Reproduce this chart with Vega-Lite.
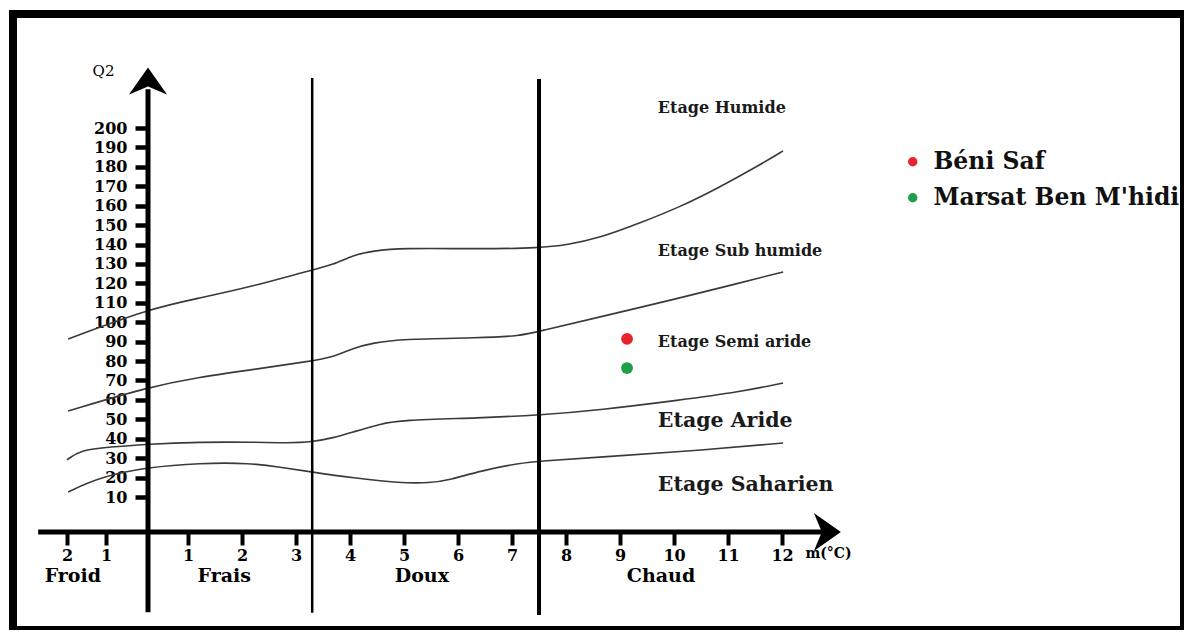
{
  "$schema": "https://vega.github.io/schema/vega-lite/v6.json",
  "width": 1171,
  "height": 616,
  "autosize": "none",
  "padding": {"left": 13, "top": 14, "right": 0, "bottom": 0},
  "background": "white",
  "config": {"view": {"stroke": "black", "strokeWidth": 8}, "font": "DejaVu Serif"},
  "datasets": {
    "curves": [
      {"limite": "A", "m": -1.97, "Q2": 91.4}, {"limite": "A", "m": 0, "Q2": 106.8}, {"limite": "A", "m": 1.22, "Q2": 112.5}, {"limite": "A", "m": 2.15, "Q2": 118.1}, {"limite": "A", "m": 3.28, "Q2": 126.9}, {"limite": "A", "m": 3.69, "Q2": 129.5}, {"limite": "A", "m": 4.06, "Q2": 134.6}, {"limite": "A", "m": 4.43, "Q2": 136.7}, {"limite": "A", "m": 4.93, "Q2": 138.2}, {"limite": "A", "m": 6.41, "Q2": 137.7}, {"limite": "A", "m": 7.52, "Q2": 138.2}, {"limite": "A", "m": 8.02, "Q2": 139.8}, {"limite": "A", "m": 8.63, "Q2": 143.4}, {"limite": "A", "m": 9.37, "Q2": 151.1}, {"limite": "A", "m": 10.11, "Q2": 159.3}, {"limite": "A", "m": 10.85, "Q2": 169.6}, {"limite": "A", "m": 11.59, "Q2": 181.0}, {"limite": "A", "m": 12.02, "Q2": 188.2},
      {"limite": "B", "m": -1.97, "Q2": 54.3}, {"limite": "B", "m": 0, "Q2": 66.6}, {"limite": "B", "m": 1.22, "Q2": 71.8}, {"limite": "B", "m": 2.15, "Q2": 75.4}, {"limite": "B", "m": 3.28, "Q2": 80.0}, {"limite": "B", "m": 3.69, "Q2": 82.1}, {"limite": "B", "m": 4.06, "Q2": 86.7}, {"limite": "B", "m": 4.43, "Q2": 89.3}, {"limite": "B", "m": 4.93, "Q2": 91.4}, {"limite": "B", "m": 6.41, "Q2": 91.9}, {"limite": "B", "m": 7.15, "Q2": 92.9}, {"limite": "B", "m": 7.52, "Q2": 95.5}, {"limite": "B", "m": 8.63, "Q2": 102.7}, {"limite": "B", "m": 10.11, "Q2": 112.5}, {"limite": "B", "m": 11.22, "Q2": 120.2}, {"limite": "B", "m": 12.02, "Q2": 125.9},
      {"limite": "C", "m": -2.0, "Q2": 29.1}, {"limite": "C", "m": -1.67, "Q2": 34.2}, {"limite": "C", "m": -0.9, "Q2": 35.7}, {"limite": "C", "m": 0, "Q2": 37.3}, {"limite": "C", "m": 1.22, "Q2": 38.3}, {"limite": "C", "m": 2.15, "Q2": 38.3}, {"limite": "C", "m": 2.89, "Q2": 37.8}, {"limite": "C", "m": 3.28, "Q2": 38.3}, {"limite": "C", "m": 3.69, "Q2": 40.4}, {"limite": "C", "m": 4.06, "Q2": 43.5}, {"limite": "C", "m": 4.56, "Q2": 47.6}, {"limite": "C", "m": 4.93, "Q2": 49.6}, {"limite": "C", "m": 6.41, "Q2": 50.7}, {"limite": "C", "m": 7.52, "Q2": 52.2}, {"limite": "C", "m": 8.63, "Q2": 54.8}, {"limite": "C", "m": 10.11, "Q2": 59.9}, {"limite": "C", "m": 11.22, "Q2": 64.1}, {"limite": "C", "m": 12.02, "Q2": 68.7},
      {"limite": "D", "m": -1.97, "Q2": 12.6}, {"limite": "D", "m": -1.15, "Q2": 20.3}, {"limite": "D", "m": 0, "Q2": 25.4}, {"limite": "D", "m": 1.22, "Q2": 27.5}, {"limite": "D", "m": 2.15, "Q2": 27.5}, {"limite": "D", "m": 2.7, "Q2": 25.4}, {"limite": "D", "m": 3.28, "Q2": 22.9}, {"limite": "D", "m": 4.06, "Q2": 19.8}, {"limite": "D", "m": 4.93, "Q2": 17.2}, {"limite": "D", "m": 5.48, "Q2": 17.2}, {"limite": "D", "m": 5.85, "Q2": 18.8}, {"limite": "D", "m": 6.41, "Q2": 23.4}, {"limite": "D", "m": 7.15, "Q2": 27.5}, {"limite": "D", "m": 7.52, "Q2": 28.5}, {"limite": "D", "m": 8.63, "Q2": 30.6}, {"limite": "D", "m": 10.11, "Q2": 33.2}, {"limite": "D", "m": 12.02, "Q2": 37.8}
    ],
    "stations": [
      {"station": "Béni Saf", "m": 9.13, "Q2": 91.4},
      {"station": "Marsat Ben M'hidi", "m": 9.13, "Q2": 76.4}
    ],
    "divisions": [
      {"m": 3.3, "Q2": -23.1, "Q2_end": 225.7},
      {"m": 7.5, "Q2": -23.7, "Q2_end": 225.2}
    ],
    "axes": [
      {"axe": "Q2", "m": 0, "m_end": 0, "Q2": -22.9, "Q2_end": 220},
      {"axe": "m", "m": -2.74, "m_end": 12.9, "Q2": 0, "Q2_end": 0}
    ],
    "arrows": [
      {"dir": "up", "m": 0, "Q2": 224.2},
      {"dir": "right", "m": 12.84, "Q2": 0}
    ],
    "zones": [
      {"label": "Froid", "m": -1.85, "Q2": -12.6},
      {"label": "Frais", "m": 1.67, "Q2": -12.6},
      {"label": "Doux", "m": 5.33, "Q2": -12.6},
      {"label": "Chaud", "m": 9.76, "Q2": -12.6}
    ],
    "etages": [
      {"label": "Etage Humide", "m": 9.7, "Q2": 210.3},
      {"label": "Etage Sub humide", "m": 9.7, "Q2": 136.7},
      {"label": "Etage Semi aride", "m": 9.7, "Q2": 89.8},
      {"label": "Etage Aride", "m": 9.7, "Q2": 49.1},
      {"label": "Etage Saharien", "m": 9.7, "Q2": 16.2}
    ]
  },
  "encoding": {
    "x": {
      "field": "m", "type": "quantitative",
      "scale": {"type": "linear", "domain": [-2, -1, 0, 1, 12], "range": [54, 93, 135, 175, 769], "zero": false, "nice": false},
      "axis": {
        "orient": "bottom", "offset": -98, "domain": false, "grid": false,
        "values": [-2, -1, 1, 2, 3, 4, 5, 6, 7, 8, 9, 10, 11, 12],
        "labelExpr": "format(abs(datum.value), 'd')",
        "tickSize": 13, "tickWidth": 4, "tickColor": "black",
        "labelFont": "DejaVu Serif", "labelFontWeight": "bold", "labelFontSize": 16, "labelColor": "black",
        "labelPadding": 2, "labelOverlap": false, "labelFlush": false, "labelBound": false,
        "title": "m(°C)", "titleX": 815, "titleY": 21, "titleAlign": "center", "titleBaseline": "middle",
        "titleFont": "DejaVu Serif", "titleFontSize": 14, "titleFontWeight": "bold", "titleColor": "black"
      }
    },
    "y": {
      "field": "Q2", "type": "quantitative",
      "scale": {"type": "linear", "domain": [0, 10, 200], "range": [518, 483, 114], "zero": false, "nice": false},
      "axis": {
        "orient": "left", "offset": -135, "domain": false, "grid": false,
        "values": [10, 20, 30, 40, 50, 60, 70, 80, 90, 100, 110, 120, 130, 140, 150, 160, 170, 180, 190, 200],
        "tickSize": 13, "tickWidth": 4.5, "tickColor": "black",
        "labelFont": "DejaVu Serif", "labelFontWeight": "bold", "labelFontSize": 16, "labelColor": "black",
        "labelPadding": 8, "labelOverlap": false, "labelFlush": false, "labelBound": false,
        "title": "Q2", "titleAngle": 0, "titleX": -45, "titleY": 56, "titleAlign": "center", "titleBaseline": "middle",
        "titleFont": "DejaVu Serif", "titleFontSize": 15, "titleFontWeight": "normal", "titleColor": "black"
      }
    }
  },
  "layer": [
    {
      "data": {"name": "curves"},
      "mark": {"type": "line", "interpolate": "basis", "stroke": "#3a3a3a", "strokeWidth": 1.6},
      "encoding": {"detail": {"field": "limite"}}
    },
    {
      "data": {"name": "divisions"},
      "transform": [{"filter": "datum.m < 5"}],
      "mark": {"type": "rule", "color": "black", "strokeWidth": 2.5},
      "encoding": {"y2": {"field": "Q2_end"}}
    },
    {
      "data": {"name": "divisions"},
      "transform": [{"filter": "datum.m > 5"}],
      "mark": {"type": "rule", "color": "black", "strokeWidth": 4},
      "encoding": {"y2": {"field": "Q2_end"}}
    },
    {
      "data": {"name": "axes"},
      "mark": {"type": "rule", "color": "black", "strokeWidth": 5},
      "encoding": {"x2": {"field": "m_end"}, "y2": {"field": "Q2_end"}}
    },
    {
      "data": {"name": "arrows"},
      "mark": {"type": "point", "shape": "M0,-0.71L1,0.71L0,0.29L-1,0.71Z", "filled": true, "color": "black", "opacity": 1, "size": 1444},
      "encoding": {"angle": {"field": "dir", "type": "nominal", "scale": {"domain": ["up", "right"], "range": [0, 90]}, "legend": null}}
    },
    {
      "data": {"name": "zones"},
      "mark": {"type": "text", "align": "center", "baseline": "middle", "font": "DejaVu Serif", "fontWeight": "bold", "fontSize": 19, "color": "black"},
      "encoding": {"text": {"field": "label"}}
    },
    {
      "data": {"name": "etages"},
      "transform": [{"filter": "datum.Q2 > 80"}],
      "mark": {"type": "text", "align": "left", "baseline": "middle", "font": "DejaVu Serif", "fontWeight": "bold", "fontSize": 16, "color": "#1a1a1a"},
      "encoding": {"text": {"field": "label"}}
    },
    {
      "data": {"name": "etages"},
      "transform": [{"filter": "datum.Q2 < 80"}],
      "mark": {"type": "text", "align": "left", "baseline": "middle", "font": "DejaVu Serif", "fontWeight": "bold", "fontSize": 20.5, "color": "#1a1a1a"},
      "encoding": {"text": {"field": "label"}}
    },
    {
      "data": {"name": "stations"},
      "mark": {"type": "point", "filled": true, "opacity": 1, "size": 140, "shape": "circle"},
      "encoding": {
        "color": {
          "field": "station", "type": "nominal",
          "scale": {"domain": ["Béni Saf", "Marsat Ben M'hidi"], "range": ["#e8232b", "#1fa048"]},
          "legend": {
            "orient": "none", "legendX": 888, "legendY": 136, "title": null, "padding": 0,
            "labelFont": "DejaVu Serif", "labelFontWeight": "bold", "labelFontSize": 23.5, "labelColor": "#111",
            "labelLimit": 400, "symbolSize": 90, "symbolType": "circle", "symbolStrokeWidth": 0,
            "labelOffset": 9, "rowPadding": 11
          }
        }
      }
    }
  ]
}
